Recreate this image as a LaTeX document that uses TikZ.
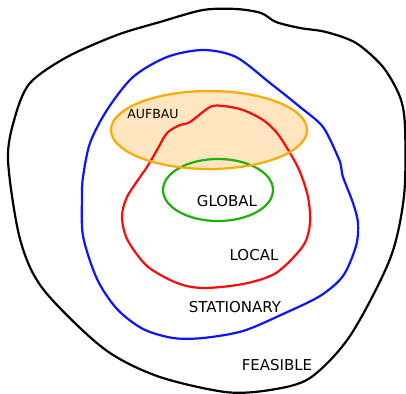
\documentclass[tikz,border=0pt]{standalone}
\usepackage{fontspec}
\setmainfont{DejaVu Sans}

\definecolor{bleu}{RGB}{10,20,255}
\definecolor{rouge}{RGB}{255,10,10}
\definecolor{vert}{RGB}{30,175,10}
\definecolor{orangetrait}{RGB}{255,168,0}
\definecolor{orangefond}{RGB}{255,230,192}

\begin{document}
\begin{tikzpicture}[x=1pt,y=-1pt,line width=2.2pt,
   etiquette/.style={inner sep=0pt,font=\fontsize{15}{18}\selectfont}]

\useasboundingbox (0,0) rectangle (406,393);

%% ensemble realisable
   \draw [black] plot [smooth cycle,tension=0.5] coordinates {
      (203,10) (236,9) (261,13) (276,22) (300,28) (326,32) (356,43) (383,67)
      (400,97) (405,127) (404,196) (390,259) (350,336) (310,378) (270,390)
      (225,392) (157,376) (103,348) (43,289) (20,239) (8,160) (15,117)
      (30,83) (67,57) (117,35) (160,22)};

%% points stationnaires
   \draw [bleu] plot [smooth cycle,tension=0.5] coordinates {
      (203,50) (236,57) (270,83) (300,107) (323,127) (338,157) (341,166)
      (343,177) (353,203) (358,223) (356,246) (343,276) (320,296) (283,314)
      (243,331) (203,338) (173,338) (143,329) (117,309) (97,279) (83,236)
      (82,197) (83,177) (90,143) (107,110) (133,77) (167,57)};

%% aufbau (fond)
   \fill [orangefond] (209,130) ellipse [x radius=98,y radius=39];

%% minima locaux
   \draw [rouge] plot [smooth cycle,tension=0.5] coordinates {
      (210,107) (223,106) (243,110) (263,120) (277,133) (290,153) (300,172)
      (308,197) (310,223) (303,246) (276,273) (243,284) (203,288) (177,283)
      (147,266) (127,239) (122,216) (127,197) (140,177) (147,167) (157,150)
      (167,133) (180,125) (190,122)};

%% minimum global
   \draw [vert] (218,190) ellipse [x radius=55,y radius=31];

%% aufbau (bord)
   \draw [orangetrait] (209,130) ellipse [x radius=98,y radius=39];

%% textes
   \node [etiquette,font=\fontsize{12.5}{15}\selectfont] (aufbau) at (153,114) {AUFBAU};
   \node [etiquette] (global) at (227,201) {GLOBAL};
   \node [etiquette] (local) at (254,255) {LOCAL};
   \node [etiquette] (stationary) at (235,307) {STATIONARY};
   \node [etiquette] (feasible) at (277,365) {FEASIBLE};

\end{tikzpicture}
\end{document}
